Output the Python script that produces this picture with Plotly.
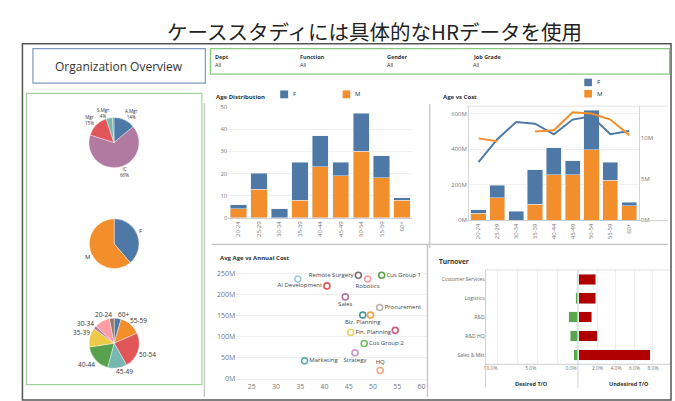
import plotly.graph_objects as go

W, H = 675, 401


def fx(x):
    return x / W


def fy(y):
    return 1 - y / H


# ---------------- data ----------------
age_groups = ["20-24", "25-29", "30-34", "35-39", "40-44", "45-49", "50-54", "55-59", "60+"]
headcount_f = [2, 7, 4, 17, 14, 6, 17, 10, 1]
headcount_m = [4, 13, 0, 8, 23, 19, 30, 18, 8]
cost_f = [20, 72, 50, 194, 153, 81, 222, 102, 19]          # annual cost (M)
cost_m = [39, 126, 0, 89, 255, 255, 397, 225, 81]
avg_cost_f = [7.1, 9.9, 12.0, 11.8, 10.5, 12.3, 12.7, 10.5, 10.9]   # avg cost per head (M)
avg_cost_m = [10.0, 9.65, None, 10.85, 11.0, 13.2, 13.05, 12.3, 10.4]

job_grades = ["A.Mgr", "IC", "Mgr", "S.Mgr", "Exec"]
job_grade_pct = [14, 66, 15, 4, 1]
genders = ["F", "M"]

units = ["", "AI Development", "Remote Surgery", "Robotics", "Cus Group 1", "Sales",
         "Procurement", "Biz. Planning", "", "Fin. Planning", "", "Cus Group 2",
         "Strategy", "Marketing", "HQ"]
unit_avg_age = [34.5, 40.5, 47.0, 48.9, 51.8, 44.3, 51.4, 47.9, 49.5, 45.4, 54.6, 48.2, 46.3, 35.9, 51.5]
unit_cost = [236, 220, 245, 236, 245, 194, 169, 151, 151, 110, 115, 84, 62, 43, 20]   # M

to_units = ["Customer Services", "Logistics", "R&D", "R&D HQ", "Sales & Mkt"]
desired_to = [0.12, 0.25, 1.16, 0.95, 0.54]      # %
undesired_to = [1.83, 1.83, 1.36, 2.0, 7.68]     # %

filter_names = ["Dept", "Function", "Gender", "Job Grade"]
filter_values = ["All", "All", "All", "All"]

cost_ticks = [0, 200, 400, 600]
avg_cost_ticks = [0, 5, 10]
unit_cost_ticks = [0, 50, 100, 150, 200, 250]
desired_ticks = [0, 5, 10]
undesired_ticks = [2, 4, 6, 8]

# ---------------- styles ----------------
BLUE, ORANGE = "#4e79a7", "#f28e2b"
T10 = ["#4e79a7", "#f28e2b", "#e15759", "#76b7b2", "#59a14f", "#edc948", "#b07aa1", "#ff9da7", "#9c755f"]
grade_colors = ["#4e79a7", "#b07aa1", "#e15759", "#76b7b2", "#59a14f"]
unit_colors = ["#a0cbe8", "#e15759", "#79706e", "#ff9da7", "#59a14f", "#b07aa1", "#bab0ac",
               "#499894", "#f4a340", "#f1ce63", "#d4557a", "#6cbf5e", "#c994c7", "#5fb0a8", "#f1a481"]
unit_textpos = ["middle left", "middle left", "middle left", "bottom center", "middle right",
                "bottom center", "middle right", "bottom center", "middle right", "middle right",
                "middle right", "middle right", "bottom center", "middle right", "top center"]
TICK = dict(size=6, color="#777", family="Open Sans")
GRID = "#efefef"
SEP = "#c4c4c4"
FONT = "Open Sans"

fig = go.Figure()

# ---- Age Distribution (stacked headcount) ----
fig.add_trace(go.Bar(x=age_groups, y=headcount_m, name="M", marker_color=ORANGE, width=0.8,
                     xaxis="x", yaxis="y", showlegend=False))
fig.add_trace(go.Bar(x=age_groups, y=headcount_f, name="F", marker_color=BLUE, width=0.8,
                     xaxis="x", yaxis="y", showlegend=False))

# ---- Age vs Cost ----
fig.add_trace(go.Bar(x=age_groups, y=cost_m, name="M", marker_color=ORANGE, width=0.8,
                     xaxis="x2", yaxis="y2", showlegend=False))
fig.add_trace(go.Bar(x=age_groups, y=cost_f, name="F", marker_color=BLUE, width=0.8,
                     xaxis="x2", yaxis="y2", showlegend=False))
fig.add_trace(go.Scatter(x=age_groups, y=avg_cost_f, mode="lines", line=dict(color=BLUE, width=2),
                         xaxis="x2", yaxis="y3", showlegend=False))
fig.add_trace(go.Scatter(x=age_groups, y=avg_cost_m, mode="lines", line=dict(color=ORANGE, width=2),
                         connectgaps=False, xaxis="x2", yaxis="y3", showlegend=False))

# ---- Avg Age vs Annual Cost ----
fig.add_trace(go.Scatter(x=unit_avg_age, y=unit_cost, mode="markers+text", text=units,
                         textposition=unit_textpos,
                         textfont=dict(size=6, color="#444", family=FONT),
                         marker=dict(symbol="circle-open", size=6, color=unit_colors, line=dict(width=1.6)),
                         xaxis="x3", yaxis="y4", showlegend=False, cliponaxis=False))

# ---- Turnover ----
fig.add_trace(go.Bar(y=to_units, x=desired_to, orientation="h", marker_color="#5aa64c", width=0.56,
                     xaxis="x4", yaxis="y5", showlegend=False))
fig.add_trace(go.Bar(y=to_units, x=undesired_to, orientation="h", marker_color="#b00000", width=0.56,
                     xaxis="x5", yaxis="y5", showlegend=False))

# ---- Pies ----
age_totals = [f + m for f, m in zip(headcount_f, headcount_m)]
gender_totals = [sum(headcount_f), sum(headcount_m)]
pie_common = dict(sort=False, direction="clockwise", rotation=0, textinfo="none",
                  showlegend=False, marker_line=dict(color="white", width=0.4))
fig.add_trace(go.Pie(labels=job_grades, values=job_grade_pct, marker_colors=grade_colors,
                     domain=dict(x=[fx(86.8), fx(137.8)], y=[fy(167.6), fy(116.6)]), **pie_common))
fig.add_trace(go.Pie(labels=genders, values=gender_totals, marker_colors=[BLUE, ORANGE],
                     domain=dict(x=[fx(87.2), fx(137.8)], y=[fy(270.3), fy(219.7)]), **pie_common))
fig.add_trace(go.Pie(labels=age_groups[::-1], values=age_totals[::-1], marker_colors=T10,
                     domain=dict(x=[fx(87.0), fx(138.0)], y=[fy(371.8), fy(320.8)]), **pie_common))

# ---------------- annotations ----------------
annotations = []


def ann(text, x, y, size=6, color="#333", xanchor="left", family=FONT):
    annotations.append(dict(text=text, x=fx(x), y=fy(y), xref="paper", yref="paper",
                            xanchor=xanchor, yanchor="middle", showarrow=False,
                            font=dict(size=size, color=color, family=family)))


ann("ケーススタディには具体的なHRデータを使用", 374, 29, size=20.5, color="#222",
    xanchor="center", family="Noto Sans CJK JP")
ann("Organization Overview", 117.5, 65, size=12, color="#333", xanchor="center")

filter_x = [212, 297, 384, 470]
for name, val, x in zip(filter_names, filter_values, filter_x):
    ann("<b>" + name + "</b>", x, 54.5, size=5.5, color="#333")
    ann(val, x, 63.5, size=5.5, color="#333")

ann("<b>Age Distribution</b>", 213, 95.5, size=6, color="#333")
ann("<b>Age vs Cost</b>", 440, 95.5, size=6, color="#333")
ann("<b>Avg Age vs Annual Cost</b>", 217, 259.5, size=6, color="#333")
ann("<b>Turnover</b>", 436, 263.5, size=6.5, color="#333")
ann("<b>Desired T/O</b>", 531.5, 387.5, size=5.5, color="#333", xanchor="center")
ann("<b>Undesired T/O</b>", 629, 387.5, size=5.5, color="#333", xanchor="center")

# legends (F / M)
ann(genders[0], 289.5, 93, size=6)
ann(genders[1], 352, 93, size=6)
ann(genders[0], 594.5, 80.8, size=6)
ann(genders[1], 594.5, 92.3, size=6)

# pie labels
grade_label_pos = [(130, 112.5), (122.5, 172.3), (88, 118.7), (101.7, 112), None]
for g, p, pos in zip(job_grades, job_grade_pct, grade_label_pos):
    if pos:
        ann(f"{g}<br>{p}%", pos[0], pos[1], size=4.5, color="#333", xanchor="center")
ann(genders[0], 138.5, 231.7, size=6, xanchor="center")
ann(genders[1], 85.5, 258.3, size=6, xanchor="center")
age_label_pos = [(101.7, 316.7), (82, 352), (83.3, 326.3), (79.3, 335.8), (84.3, 368.3),
                 (123.3, 375.5), (146, 357.7), (136.7, 323.3), (121.7, 316.7)]
for a, pos in zip(age_groups, age_label_pos):
    if a == "25-29":
        continue
    ann(a, pos[0], pos[1], size=6.5, color="#333", xanchor="center")

# ---------------- shapes ----------------
shapes = []


def rect(x0, y0, x1, y1, color, width=1.2, fill=None):
    shapes.append(dict(type="rect", xref="paper", yref="paper", x0=fx(x0), x1=fx(x1),
                       y0=fy(y1), y1=fy(y0), line=dict(color=color, width=width),
                       fillcolor=fill if fill else "rgba(0,0,0,0)", layer="above"))


def line(x0, y0, x1, y1, color=SEP, width=1.3):
    shapes.append(dict(type="line", xref="paper", yref="paper", x0=fx(x0), x1=fx(x1),
                       y0=fy(y0), y1=fy(y1), line=dict(color=color, width=width), layer="above"))


rect(20.5, 41.5, 671, 404, "#555", width=1.5)
rect(31, 46.5, 204, 81.5, "#7f9cc0")
rect(209, 46.5, 669.5, 72.3, "#86c97f")
rect(24.5, 92, 200.5, 388.5, "#a3d39d")
line(203, 102, 203, 401)
line(429, 103, 429, 249)
line(210, 245.6, 668, 245.6)
line(426.7, 246, 426.7, 401)
# legend squares
rect(279, 89, 287, 97, BLUE, width=0, fill=BLUE)
rect(341.7, 89, 349.3, 97, ORANGE, width=0, fill=ORANGE)
rect(584, 77, 591.7, 84.7, BLUE, width=0, fill=BLUE)
rect(584, 88.5, 591.7, 96.2, ORANGE, width=0, fill=ORANGE)
# age vs cost frame lines
line(465, 105, 668, 105, color="#e3e3e3", width=1)
line(465, 221.5, 668, 221.5, color="#cfcfcf", width=1)
# turnover frame lines
line(485, 271.7, 670, 271.7, color="#e0e0e0", width=1)
line(485, 367.7, 670, 367.7, color="#cfcfcf", width=1)
line(485, 271.7, 485, 391, color="#cfcfcf", width=1)
line(577.7, 271.7, 577.7, 392, color="#cfcfcf", width=1)

# ---------------- layout ----------------
cat_x = dict(type="category", tickangle=-90, tickfont=TICK, showline=True, linecolor="#cfcfcf",
             ticks="", showgrid=False, fixedrange=True)
small_tick = dict(size=5, color="#777", family=FONT)
mid_tick = dict(size=7, color="#777", family=FONT)

fig.update_layout(
    width=W, height=H, margin=dict(l=0, r=0, t=0, b=0),
    paper_bgcolor="white", plot_bgcolor="rgba(0,0,0,0)",
    barmode="stack", font=dict(family=FONT, size=6, color="#555"),
    annotations=annotations, shapes=shapes,
    xaxis=dict(domain=[fx(227), fx(411.5)], anchor="y", **cat_x),
    yaxis=dict(domain=[fy(218.7), fy(105)], anchor="x", range=[0, 50.3], dtick=10,
               tickfont=TICK, gridcolor=GRID, zeroline=False, ticks=""),
    xaxis2=dict(domain=[fx(468.5), fx(638.5)], anchor="y2", **cat_x),
    yaxis2=dict(domain=[fy(221), fy(105)], anchor="x2", range=[0, 643], tickmode="array",
                tickvals=cost_ticks, ticktext=[f"{v}M" for v in cost_ticks],
                tickfont=TICK, gridcolor=GRID, zeroline=False, showline=True,
                linecolor="#d5d5d5", ticks=""),
    yaxis3=dict(overlaying="y2", side="right", anchor="x2", range=[0, 13.94], tickmode="array",
                tickvals=avg_cost_ticks, ticktext=[f"{v}M" for v in avg_cost_ticks],
                tickfont=TICK, showgrid=False, zeroline=False, showline=True,
                linecolor="#d5d5d5", ticks=""),
    xaxis3=dict(domain=[fx(235), fx(425)], anchor="y4", range=[21.8, 60.9],
                tickvals=[25, 30, 35, 40, 45, 50, 55, 60], tickfont=mid_tick,
                showgrid=False, zeroline=False, ticks=""),
    yaxis4=dict(domain=[fy(385), fy(269)], anchor="x3", range=[-5.3, 263.9], tickmode="array",
                tickvals=unit_cost_ticks, ticktext=[f"{v}M" for v in unit_cost_ticks],
                tickfont=mid_tick, gridcolor=GRID, zeroline=False, ticks=""),
    xaxis4=dict(domain=[fx(485), fx(577.7)], anchor="y5", range=[11.49, 0], tickmode="array",
                tickvals=desired_ticks, ticktext=[f"{v:.1f}%" for v in desired_ticks],
                tickfont=small_tick, gridcolor=GRID, zeroline=False, ticks="", ticklabelshift=7,
                minor=dict(dtick=2.5, showgrid=True, gridcolor=GRID)),
    xaxis5=dict(domain=[fx(577.7), fx(670)], anchor="y5", range=[-0.108, 9.84], tickmode="array",
                tickvals=undesired_ticks, ticktext=[f"{v:.1f}%" for v in undesired_ticks],
                tickfont=small_tick, gridcolor=GRID, zeroline=False, ticks=""),
    yaxis5=dict(domain=[fy(367.7), fy(271.7)], anchor="x4", type="category",
                categoryorder="array", categoryarray=to_units, autorange="reversed",
                tickfont=dict(size=5, color="#666", family=FONT), showgrid=False, ticks=""),
)

fig.write_html("out.html", config={"displayModeBar": False},
               post_script="document.body.style.margin='0';document.body.style.overflow='hidden';")
